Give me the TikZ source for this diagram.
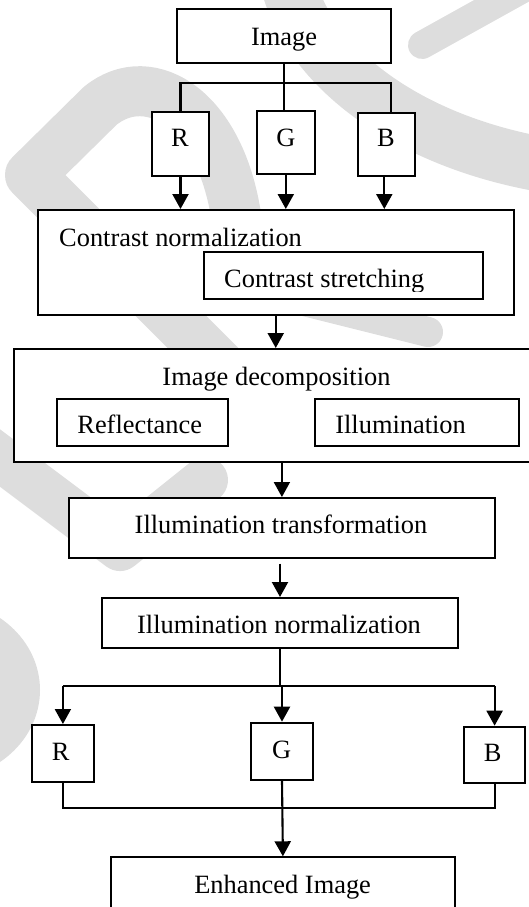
\documentclass[tikz,border=0pt]{standalone}
\usepackage{fontspec}
\setmainfont{Liberation Serif}
\usetikzlibrary{arrows.meta}
\definecolor{wm}{RGB}{221,221,221}
\begin{document}
\begin{tikzpicture}[x=1pt,y=-1pt,
  box/.style={draw, line width=2pt, fill=white, inner sep=0pt},
  lbl/.style={font=\fontsize{26.4}{30}\selectfont, inner sep=0pt, anchor=base},
  conn/.style={line width=2.1pt},
  arr/.style={conn, -{Triangle[width=16pt,length=15pt]}},
  wmk/.style={draw=wm, line cap=round, line join=round}]
\useasboundingbox (0,0) rectangle (529,907);
% watermark
\draw[wmk, line width=50pt] (238,230) .. controls (225,110) and (150,65) .. (100,106) -- (30,175) -- (250,395);
\draw[wmk, line width=55pt] (285,-30) .. controls (300,60) and (400,140) .. (545,165);
\draw[wmk, line width=28pt] (422,45) -- (530,-15);
\draw[wmk, line width=30pt] (300,300) -- (428,332);
\draw[wmk, line width=46pt] (-40,428) -- (120,548) -- (205,480);
\fill[wm] (-60,690) ellipse [x radius=100pt, y radius=90pt];
% boxes
\node[box, minimum width=214pt, minimum height=54pt] (img) at (284,36.3) {};
\node[box, minimum width=57pt, minimum height=63.4pt] (r1) at (180.5,144) {};
\node[box, minimum width=57.5pt, minimum height=63.6pt] (g1) at (285.8,142.5) {};
\node[box, minimum width=57.4pt, minimum height=63pt] (b1) at (386.3,144.2) {};
\node[box, minimum width=475.5pt, minimum height=105pt] (cn) at (275.75,262.5) {};
\node[box, minimum width=278.5pt, minimum height=47pt] (cs) at (343.25,275.5) {};
\node[box, minimum width=531.5pt, minimum height=113pt] (id) at (279.25,405.5) {};
\node[box, minimum width=171.7pt, minimum height=47pt] (rf) at (142.55,422.5) {};
\node[box, minimum width=203.8pt, minimum height=47pt] (il) at (416.7,422.5) {};
\node[box, minimum width=426.2pt, minimum height=59.7pt] (it) at (281.9,527.85) {};
\node[box, minimum width=356pt, minimum height=50pt] (in) at (280,623) {};
\node[box, minimum width=62.4pt, minimum height=56.7pt] (r2) at (62.9,753.35) {};
\node[box, minimum width=62pt, minimum height=57.3pt] (g2) at (282,751.35) {};
\node[box, minimum width=61.4pt, minimum height=56.6pt] (b2) at (494.6,755) {};
\node[box, minimum width=343.2pt, minimum height=82.7pt] (en) at (282.9,898.65) {};
% labels
\node[lbl] (img-t) at (284,45.5) {Image};
\node[lbl] (r1-t) at (180,146.5) {R};
\node[lbl] (g1-t) at (286,146) {G};
\node[lbl] (b1-t) at (386,146.5) {B};
\node[lbl, anchor=base west] (cn-t) at (59,246) {Contrast normalization};
\begin{scope}
\clip (204,252) rectangle (482.5,291);
\node[lbl, anchor=base west] (cs-t) at (224,287) {Contrast stretching};
\end{scope}
\node[lbl] (id-t) at (276.5,385) {Image decomposition};
\node[lbl] (rf-t) at (139.7,433) {Reflectance};
\node[lbl] (il-t) at (400.6,433) {Illumination};
\node[lbl] (it-t) at (281,533) {Illumination transformation};
\node[lbl] (in-t) at (279,633) {Illumination normalization};
\node[lbl] (r2-t) at (60.7,760.5) {R};
\node[lbl] (g2-t) at (281.7,758) {G};
\node[lbl] (b2-t) at (492.6,761.5) {B};
\node[lbl] (en-t) at (282.6,893) {Enhanced Image};
% connectors
\coordinate (t1) at (284.4,83.3);
\coordinate (t2) at (280,686);
\coordinate (t3) at (283,808);
\draw[conn] (img.south) -- (img.south |- g1.north);
\draw[conn] (r1.north) |- (t1) -| ([xshift=5pt]b1.north);
\draw[arr] (r1.south) -- (r1.south |- cn.north);
\draw[arr] (g1.south) -- (g1.south |- cn.north);
\draw[arr] ([xshift=-2pt]b1.south) -- ([xshift=-2pt]b1.south |- cn.north);
\draw[arr] (cn.south) -- (cn.south |- id.north);
\draw[arr] (it.north |- id.south) -- (it.north);
\draw[arr] ([yshift=-5pt]in.north |- it.south) -- (in.north);
\draw[conn] (in.south) -- (in.south |- t2);
\draw[conn] (r2.north |- t2) -- (b2.north |- t2);
\draw[arr] (r2.north |- t2) -- (r2.north);
\draw[arr] (g2.north |- t2) -- (g2.north);
\draw[arr] (b2.north |- t2) -- (b2.north);
\draw[conn] (r2.south) |- (t3) -| (b2.south);
\draw[arr] (g2.south) -- (en.north);
\end{tikzpicture}
\end{document}
